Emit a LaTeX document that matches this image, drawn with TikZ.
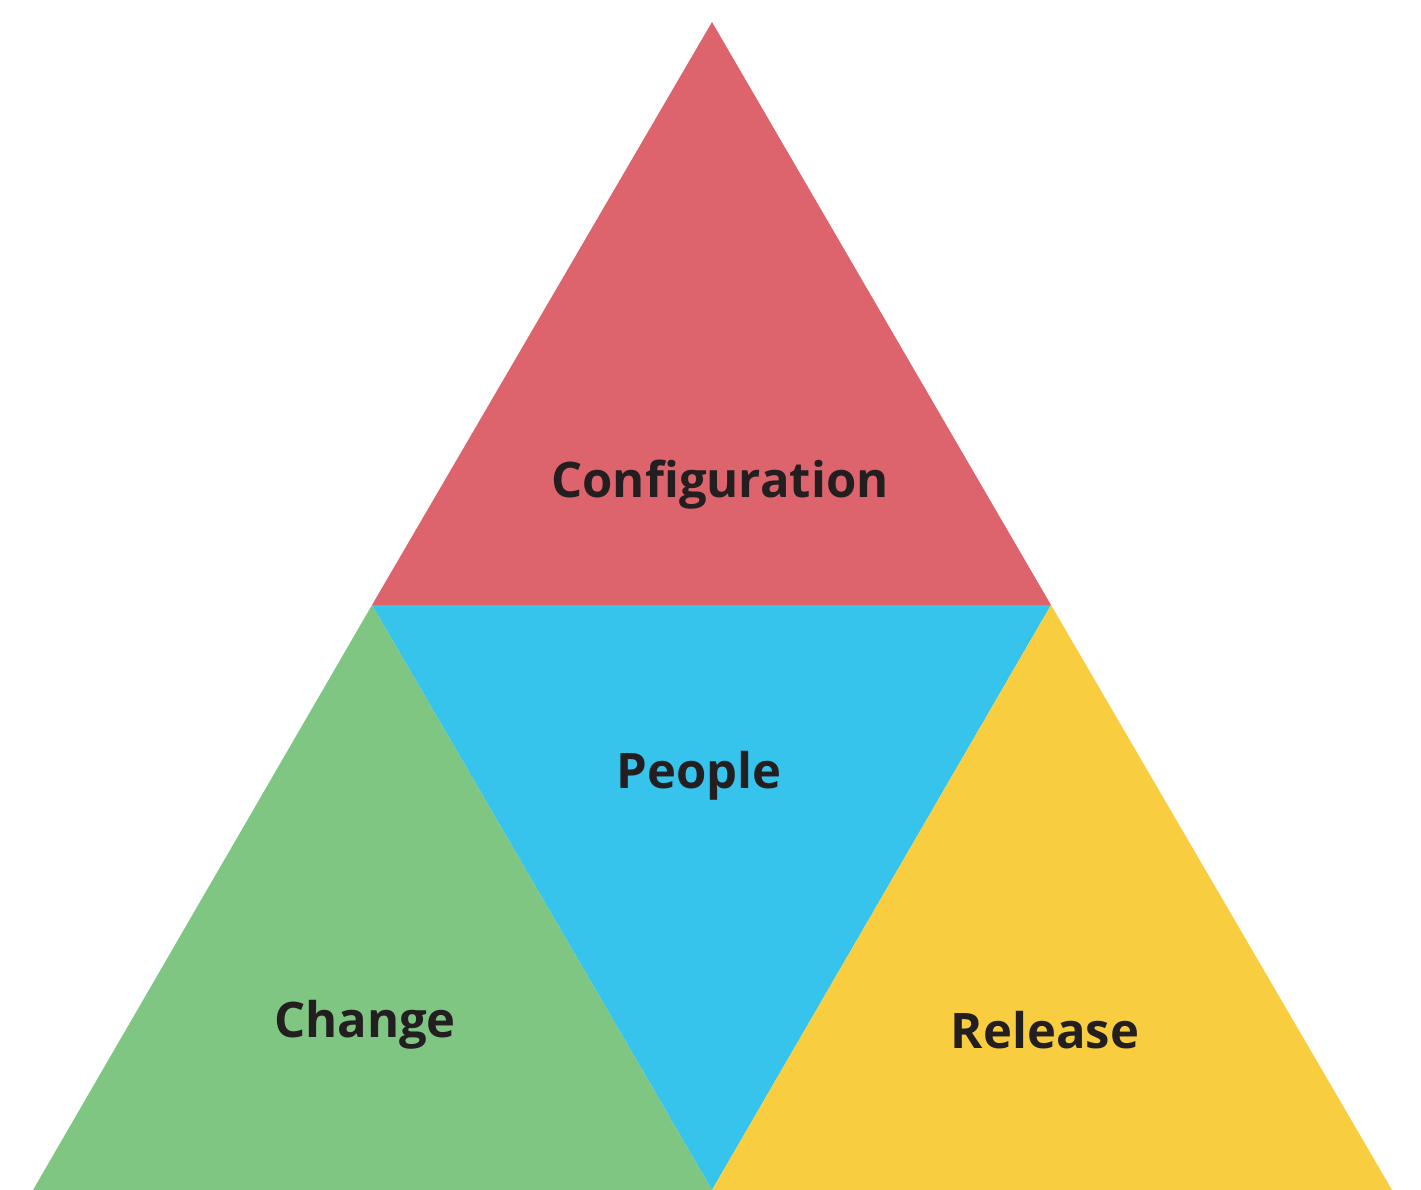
\documentclass[tikz,border=0pt]{standalone}
\usepackage{fontspec}
\setmainfont{Open Sans}
\usetikzlibrary{positioning}

\definecolor{configred}{HTML}{DD646C}
\definecolor{peopleblue}{HTML}{36C3EC}
\definecolor{changegreen}{HTML}{80C683}
\definecolor{releaseyellow}{HTML}{F8CD40}
\definecolor{labeltext}{HTML}{231F20}

\tikzset{
    area/.style={draw=none},
    label text/.style={font=\bfseries\fontsize{24.5}{28}\selectfont, text=labeltext, inner sep=0pt}
}

\begin{document}
\begin{tikzpicture}[x=0.5pt, y=-0.5pt]
            \useasboundingbox (0, 0) rectangle (1421, 1190);

            % Corners
            \coordinate (top) at (712, 22);
            \coordinate (midl) at (372, 605);
            \coordinate (midr) at (1051, 605);
            \coordinate (botl) at (33, 1190);
            \coordinate (botm) at (712, 1190);
            \coordinate (botr) at (1392, 1190);

            % Areas
            \fill[area, configred] (top) -- (midr) -- (midl) -- cycle;
            \fill[area, peopleblue] (midl) -- (midr) -- (botm) -- cycle;
            \fill[area, changegreen] (midl) -- (botm) -- (botl) -- cycle;
            \fill[area, releaseyellow] (midr) -- (botr) -- (botm) -- cycle;

            % Labels
            \node[label text] (config) at (720, 485) {Configuration};
            \node[label text] (people) at (699, 776) {People};
            \node[label text] (change) at (365, 1025) {Change};
            \node[label text] (release) at (1045, 1030) {Release};
        \end{tikzpicture}
\end{document}
